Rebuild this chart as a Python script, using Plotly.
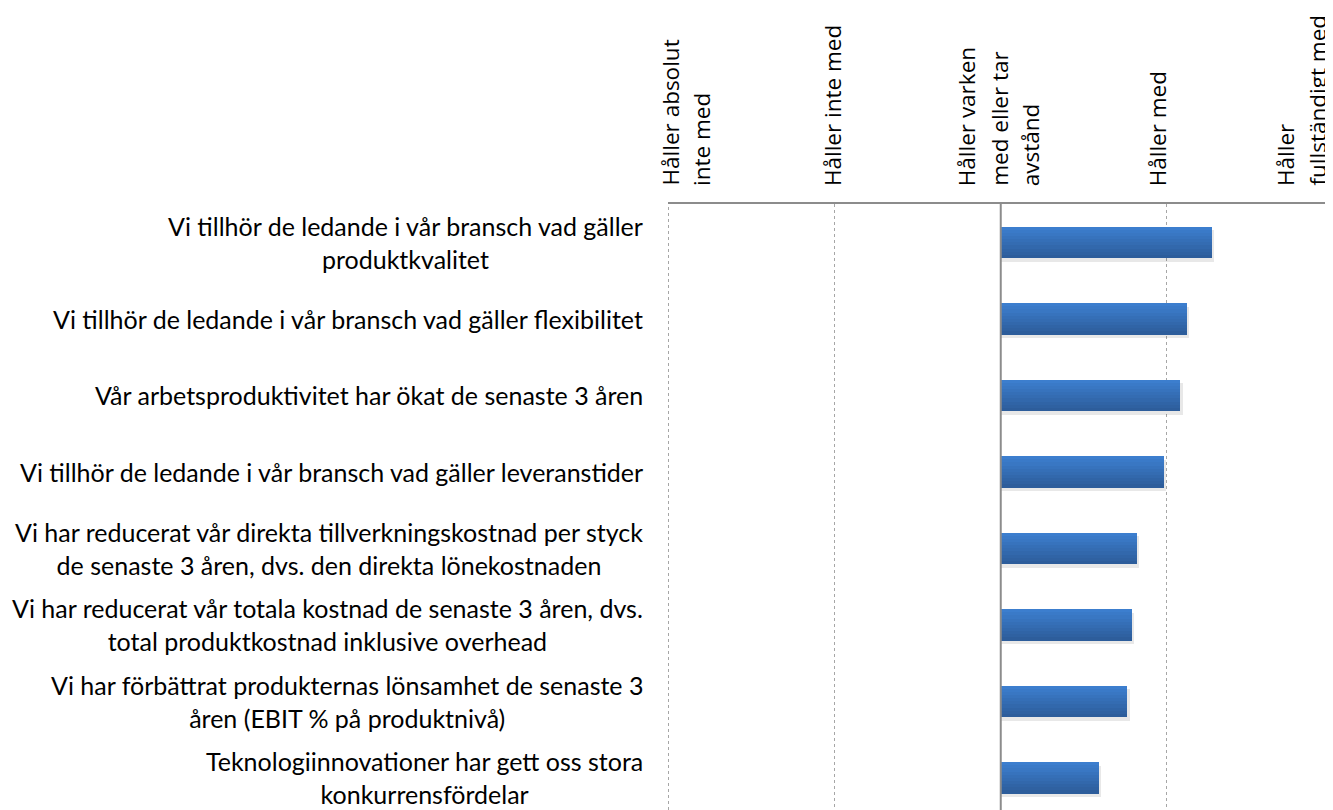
import plotly.graph_objects as go

# ---- data ----
categories = [
    "Vi tillhör de ledande i vår bransch vad gäller<br>produktkvalitet",
    "Vi tillhör de ledande i vår bransch vad gäller flexibilitet",
    "Vår arbetsproduktivitet har ökat de senaste 3 åren",
    "Vi tillhör de ledande i vår bransch vad gäller leveranstider",
    "Vi har reducerat vår direkta tillverkningskostnad per styck<br>de senaste 3 åren, dvs. den direkta lönekostnaden",
    "Vi har reducerat vår totala kostnad de senaste 3 åren, dvs.<br>total produktkostnad inklusive overhead",
    "Vi har förbättrat produkternas lönsamhet de senaste 3<br>åren (EBIT % på produktnivå)",
    "Teknologiinnovationer har gett oss stora<br>konkurrensfördelar",
]
values = [4.27, 4.12, 4.08, 3.98, 3.82, 3.79, 3.76, 3.59]
baseline = 3
scale_values = [1, 2, 3, 4, 5]
scale_labels = [
    "Håller absolut<br>inte med",
    "Håller inte med",
    "Håller varken<br>med eller tar<br>avstånd",
    "Håller med",
    "Håller<br>fullständigt med",
]

# ---- style ----
FONT_Y = "Lato, 'Liberation Sans', sans-serif"
FONT_X = "'Open Sans', 'DejaVu Sans', sans-serif"
label_first_line_shift = [1, -2, -34, -9, -48]  # px, horizontal placement of rotated labels
label_line_step = 32
idx = list(range(len(categories)))

fig = go.Figure()

W = 0.41
# soft shadow
fig.add_trace(go.Bar(
    y=idx, x=[v - baseline + 0.015 for v in values], base=baseline, orientation="h",
    width=W, offset=-W / 2 + 0.05, marker=dict(color="rgba(0,0,0,0.09)", line=dict(width=0)),
    hoverinfo="skip", showlegend=False))

# gradient bar built from stripes
N = 10
top = (0x3C, 0x7E, 0xCE)
bot = (0x2D, 0x5D, 0x9B)
for i in range(N):
    t = i / (N - 1)
    c = tuple(round(top[k] + (bot[k] - top[k]) * t) for k in range(3))
    fig.add_trace(go.Bar(
        y=idx, x=[v - baseline for v in values], base=baseline, orientation="h",
        width=W / N + 0.004, offset=-W / 2 + i * W / N,
        marker=dict(color="rgb(%d,%d,%d)" % c, line=dict(width=0)),
        showlegend=False))

# dotted grid line at the left edge of the scale
fig.add_shape(type="line", xref="x", yref="paper", x0=scale_values[0], x1=scale_values[0],
              y0=0, y1=1, line=dict(color="#A6A6A6", width=1, dash="dot"), layer="below")
# axis line at the neutral point
fig.add_shape(type="line", xref="x", yref="paper", x0=baseline, x1=baseline, y0=0, y1=1,
              line=dict(color="#8C8C8C", width=2))

# category labels (centered lines, right-aligned block)
for i, cat in enumerate(categories):
    fig.add_annotation(x=0, xref="paper", y=i, yref="y", text=cat, showarrow=False,
                       xanchor="right", yanchor="middle", align="center", xshift=-23,
                       font=dict(family=FONT_Y, size=25, color="#000000"))

# scale labels on top, rotated
for v, lab, sh in zip(scale_values, scale_labels, label_first_line_shift):
    for j, line in enumerate(lab.split("<br>")):
        fig.add_annotation(x=v, xref="x", y=1, yref="paper", text=line, showarrow=False,
                           textangle=-90, xanchor="center", yanchor="bottom",
                           xshift=sh + j * label_line_step, yshift=16,
                           font=dict(family=FONT_X, size=22.5, color="#000000"))

fig.update_layout(
    width=1325, height=802,
    margin=dict(l=660, r=0, t=196, b=0),
    paper_bgcolor="white", plot_bgcolor="white",
    barmode="overlay", bargap=0,
    xaxis=dict(side="top", range=[0.997, 5], tickvals=scale_values, showticklabels=False,
               ticks="", showgrid=True, gridcolor="#A6A6A6", griddash="dot",
               gridwidth=1, showline=True, linecolor="#8C8C8C", linewidth=2, zeroline=False),
    yaxis=dict(range=[7.42, -0.5], showticklabels=False, showgrid=False, zeroline=False,
               showline=False, ticks=""),
)

fig.write_html("out.html")
